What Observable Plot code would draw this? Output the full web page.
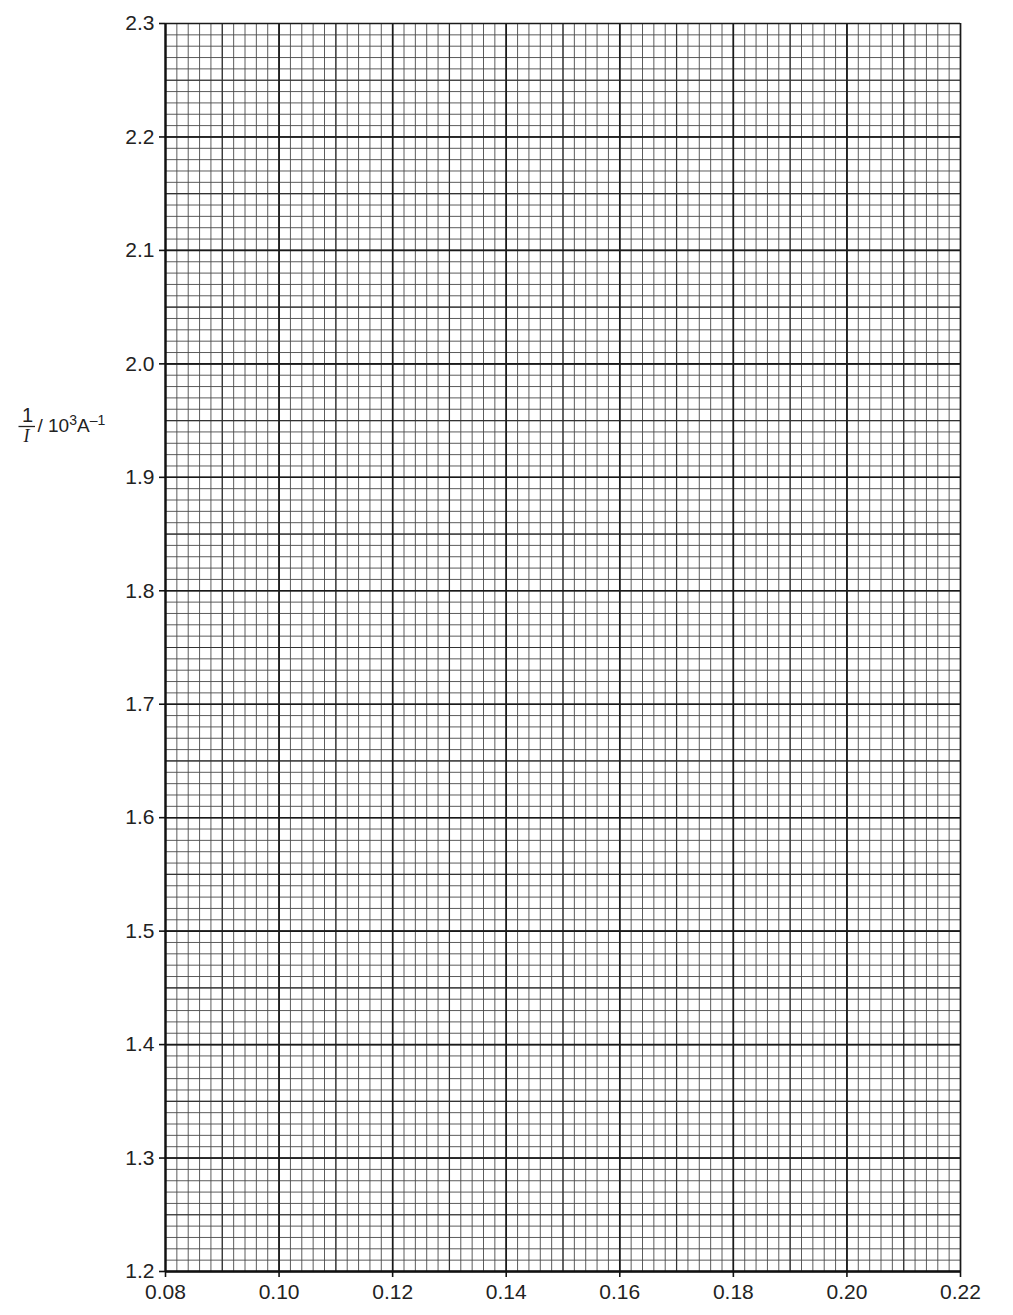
<!DOCTYPE html>
<html>
<head>
<meta charset="utf-8">
<script src="https://cdn.jsdelivr.net/npm/d3@7"></script>
<script src="https://cdn.jsdelivr.net/npm/@observablehq/plot@0.6"></script>
<style>
  html, body { margin: 0; padding: 0; background: #fff; }
  #chart { position: relative; width: 1013px; height: 1315px; }
</style>
</head>
<body>
<div id="chart"></div>
<script>
// Axis tick values and labels
const xTicks = [0.08, 0.10, 0.12, 0.14, 0.16, 0.18, 0.20, 0.22];
const xTickLabels = ["0.08", "0.10", "0.12", "0.14", "0.16", "0.18", "0.20", "0.22"];
const yTicks = [1.2, 1.3, 1.4, 1.5, 1.6, 1.7, 1.8, 1.9, 2.0, 2.1, 2.2, 2.3];
const yTickLabels = ["1.2", "1.3", "1.4", "1.5", "1.6", "1.7", "1.8", "1.9", "2.0", "2.1", "2.2", "2.3"];
const xDomain = [0.08, 0.22];
const yDomain = [1.2, 2.3];
// grid subdivision counts (tick counts passed to the scale)
const xMinorCount = 70, xMidCount = 14;
const yMinorCount = 110, yMidCount = 22;

const font = "'Liberation Sans', Arial, Helvetica, sans-serif";

const plot = Plot.plot({
  width: 1013,
  height: 1315,
  marginLeft: 165,
  marginRight: 53,
  marginTop: 23,
  marginBottom: 44,
  style: { fontFamily: font, fontSize: "21px", color: "#222", background: "#fff" },
  x: { domain: xDomain },
  y: { domain: yDomain },
  marks: [
    Plot.gridX({ ticks: xMinorCount, stroke: "#4a4a4a", strokeWidth: 0.9, strokeOpacity: 1 }),
    Plot.gridY({ ticks: yMinorCount, stroke: "#4a4a4a", strokeWidth: 0.9, strokeOpacity: 1 }),
    Plot.gridX({ ticks: xMidCount, stroke: "#333", strokeWidth: 1.2, strokeOpacity: 1 }),
    Plot.gridY({ ticks: yMidCount, stroke: "#333", strokeWidth: 1.2, strokeOpacity: 1 }),
    Plot.gridX({ ticks: xTicks, stroke: "#1a1a1a", strokeWidth: 1.6, strokeOpacity: 1 }),
    Plot.gridY({ ticks: yTicks, stroke: "#1a1a1a", strokeWidth: 1.6, strokeOpacity: 1 }),
    Plot.ruleX([xDomain[0]], { stroke: "#111", strokeWidth: 2.2 }),
    Plot.ruleY([yDomain[0]], { stroke: "#111", strokeWidth: 2.6 }),
    Plot.axisX({
      ticks: xTicks,
      tickFormat: (d, i) => xTickLabels[i],
      tickSize: 6,
      tickPadding: 7,
      fontSize: 21,
      stroke: "#111",
      strokeWidth: 1.6,
      label: null
    }),
    Plot.axisY({
      ticks: yTicks,
      tickFormat: (d, i) => yTickLabels[i],
      tickSize: 6,
      tickPadding: 5,
      fontSize: 21,
      stroke: "#111",
      strokeWidth: 1.6,
      label: null
    })
  ]
});

document.getElementById("chart").appendChild(plot);

// y-axis label: fraction 1/I then " / 10^3 A^-1"
const svg = d3.select(plot);
const g = svg.append("g").attr("fill", "#222").style("font-family", font);
g.append("text").attr("x", 27.5).attr("y", 422).attr("text-anchor", "middle")
  .style("font-size", "20px").text("1");
g.append("line").attr("x1", 18.5).attr("x2", 35).attr("y1", 426.5).attr("y2", 426.5)
  .attr("stroke", "#222").attr("stroke-width", 1.3);
g.append("text").attr("x", 26.5).attr("y", 442).attr("text-anchor", "middle")
  .style("font-size", "18px").style("font-family", "'Liberation Serif', 'Times New Roman', serif")
  .style("font-style", "italic").text("I");
const t = g.append("text").attr("x", 37.5).attr("y", 432).attr("text-anchor", "start")
  .style("font-size", "19px");
t.append("tspan").text("/ 10");
t.append("tspan").attr("dy", -7).style("font-size", "14px").text("3");
t.append("tspan").attr("dy", 7).text("A");
t.append("tspan").attr("dy", -7).style("font-size", "14px").text("–1");
</script>
</body>
</html>
